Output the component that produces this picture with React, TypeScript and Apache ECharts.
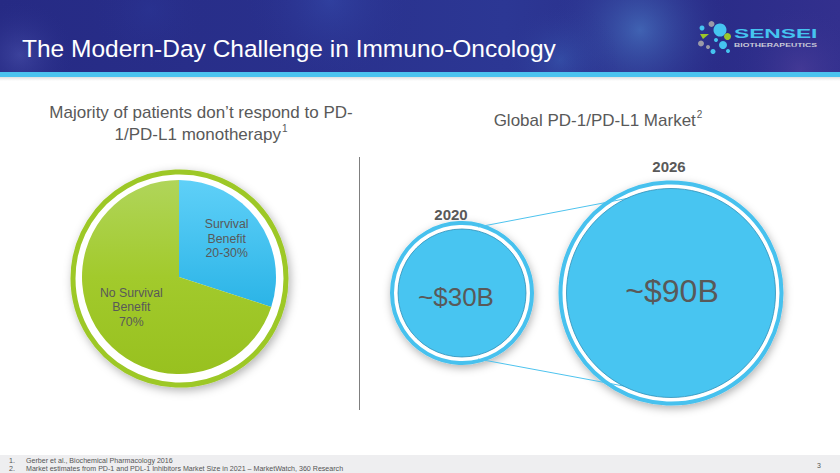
import React, { useEffect, useRef } from "react";
import * as echarts from "echarts";

// ---- data ----
const pieCategories = ["Survival Benefit", "No Survival Benefit"];
const pieValues = [30, 70];
const pieLabels = ["Survival\nBenefit\n20-30%", "No Survival\nBenefit\n70%"];

const marketYears = ["2020", "2026"];
const marketValues = [30, 90]; // $B
const marketLabels = ["~$30B", "~$90B"];

const titleText = "The Modern-Day Challenge in Immuno-Oncology";
const leftHeading = ["Majority of patients don\u2019t respond to PD-", "1/PD-L1 monotherapy"];
const rightHeading = "Global PD-1/PD-L1 Market";
const footnotes = [
  ["1.", "Gerber et al., Biochemical Pharmacology 2016"],
  ["2.", "Market estimates from PD-1 and PDL-1 Inhibitors Market Size in 2021 \u2013 MarketWatch, 360 Research"],
];
const pageNumber = "3";

const FONT = "'Liberation Sans', Arial, Helvetica, sans-serif";
const TEXT_GREY = "#595959";

// bubble size scale (value -> diameter)
const minV = Math.min(...marketValues);
const maxV = Math.max(...marketValues);
const fillDiameter = (v: number) => 128 + ((v - minV) / (maxV - minV)) * (209 - 128);

export default function App() {
  const ref = useRef<HTMLDivElement>(null);

  useEffect(() => {
    document.body.style.margin = "0";
    if (!ref.current) return;
    const chart = echarts.init(ref.current, null, { renderer: "svg" });

    const headerBg = [
      {
        type: "rect",
        z: 0,
        shape: { x: 0, y: 0, width: 840, height: 72 },
        style: {
          fill: new echarts.graphic.LinearGradient(0, 0, 1, 0, [
            { offset: 0, color: "#262a84" },
            { offset: 0.35, color: "#29308c" },
            { offset: 0.6, color: "#2c3794" },
            { offset: 0.85, color: "#2a2c88" },
            { offset: 1, color: "#33308e" },
          ]),
        },
      },
      ...[
        [640, 30, 95, "rgba(90,160,225,0.45)"],
        [560, 60, 60, "rgba(70,130,210,0.3)"],
        [330, 0, 90, "rgba(60,90,190,0.35)"],
        [20, 55, 55, "rgba(110,120,210,0.3)"],
        [800, 70, 70, "rgba(110,80,170,0.3)"],
        [150, 10, 60, "rgba(45,60,160,0.3)"],
      ].map(([cx, cy, r, c]) => ({
        type: "rect",
        z: 0,
        shape: { x: 0, y: 0, width: 840, height: 72 },
        style: {
          fill: new echarts.graphic.RadialGradient(
            cx as number,
            cy as number,
            r as number,
            [
              { offset: 0, color: c as string },
              { offset: 1, color: "rgba(40,45,140,0)" },
            ],
            true
          ),
        },
      })),
      {
        type: "rect",
        z: 0,
        shape: { x: 0, y: 72, width: 840, height: 5 },
        style: { fill: "#4bc3ef" },
      },
      {
        type: "rect",
        z: 0,
        shape: { x: 0, y: 77, width: 840, height: 4 },
        style: {
          fill: new echarts.graphic.LinearGradient(0, 0, 0, 1, [
            { offset: 0, color: "rgba(0,0,0,0.12)" },
            { offset: 1, color: "rgba(0,0,0,0)" },
          ]),
        },
      },
      {
        type: "text",
        z: 5,
        x: 22,
        y: 48,
        style: {
          text: titleText,
          fill: "#ffffff",
          font: `24.5px ${FONT}`,
          textVerticalAlign: "middle",
        },
      },
    ];

    // logo
    const logoDots: [number, number, number, string][] = [
      [711.5, 24, 3, "#9a9aa8"],
      [702, 28, 2.5, "#45c4f0"],
      [720, 30, 6.5, "#45c4f0"],
      [727.5, 36.5, 3.5, "#9bc72a"],
      [723, 45, 4, "#45c4f0"],
      [728, 51, 2, "#45c4f0"],
      [701, 43.5, 3, "#9a9aa8"],
      [713, 51.5, 2.5, "#45c4f0"],
      [708, 47, 2, "#9a9aa8"],
      [716, 40, 2, "#45c4f0"],
    ];
    const logo = [
      ...logoDots.map(([cx, cy, r, c]) => ({
        type: "circle",
        z: 5,
        shape: { cx, cy, r },
        style: { fill: c },
      })),
      {
        type: "polygon",
        z: 5,
        shape: { points: [[700, 34], [709, 34], [703, 39]] },
        style: { fill: "#9bc72a" },
      },
      {
        type: "text",
        z: 5,
        x: 734,
        y: 33,
        scaleX: 1.75,
        style: {
          text: "SENSEI",
          fill: "#45c4f0",
          font: `bold 13px ${FONT}`,
          textVerticalAlign: "middle",
        },
      },
      {
        type: "text",
        z: 5,
        x: 734,
        y: 45,
        scaleX: 1.58,
        style: {
          text: "BIOTHERAPEUTICS",
          fill: "#c9c9d8",
          font: `bold 5.5px ${FONT}`,
          textVerticalAlign: "middle",
        },
      },
    ];

    const headRich = {
      a: { fontSize: 17, fontFamily: FONT, fill: TEXT_GREY, lineHeight: 22.5 },
      s: { fontSize: 10, fontFamily: FONT, fill: TEXT_GREY, lineHeight: 22.5, verticalAlign: "top", padding: [0, 0, 10, 1] },
    };

    const body = [
      {
        type: "text",
        z: 5,
        x: 201,
        y: 101,
        style: {
          text: `{a|${leftHeading[0]}}\n{a|${leftHeading[1]}}{s|1}`,
          textAlign: "center",
          rich: headRich,
        },
      },
      {
        type: "text",
        z: 5,
        x: 598,
        y: 109,
        style: {
          text: `{a|${rightHeading}}{s|2}`,
          textAlign: "center",
          rich: headRich,
        },
      },
      {
        type: "line",
        z: 5,
        shape: { x1: 359.5, y1: 157, x2: 359.5, y2: 410 },
        style: { stroke: "#7f7f7f", lineWidth: 1 },
      },
      // pie outer ring
      {
        type: "circle",
        z: 1,
        shape: { cx: 179.5, cy: 278.5, r: 106.5 },
        style: {
          fill: "#ffffff",
          stroke: "#9dc826",
          lineWidth: 5,
          shadowBlur: 10,
          shadowColor: "rgba(0,0,0,0.3)",
          shadowOffsetX: 2,
          shadowOffsetY: 3,
        },
      },
      // connector lines between bubbles
      {
        type: "line",
        z: 3,
        shape: { x1: 478, y1: 227, x2: 645, y2: 195 },
        style: { stroke: "#4ec3ee", lineWidth: 1 },
      },
      {
        type: "line",
        z: 3,
        shape: { x1: 478, y1: 359, x2: 645, y2: 390 },
        style: { stroke: "#4ec3ee", lineWidth: 1 },
      },
      // footer
      {
        type: "rect",
        z: 0,
        shape: { x: 0, y: 455, width: 840, height: 18 },
        style: { fill: "#eeeef0" },
      },
      ...footnotes.flatMap(([n, t], i) => [
        {
          type: "text",
          z: 5,
          x: 9,
          y: 461 + i * 8,
          style: { text: n, fill: "#555555", font: `7.1px ${FONT}`, textVerticalAlign: "middle" },
        },
        {
          type: "text",
          z: 5,
          x: 26,
          y: 461 + i * 8,
          style: { text: t, fill: "#555555", font: `7.1px ${FONT}`, textVerticalAlign: "middle" },
        },
      ]),
      {
        type: "text",
        z: 5,
        x: 817,
        y: 465,
        style: { text: pageNumber, fill: "#555555", font: `7px ${FONT}`, textVerticalAlign: "middle" },
      },
    ];

    const option = {
      animation: false,
      backgroundColor: "#ffffff",
      grid: { left: 357.5, top: 173, width: 418, height: 240, show: false },
      xAxis: { type: "category", data: marketYears, show: false },
      yAxis: { type: "value", min: -1, max: 1, show: false },
      graphic: { elements: [...headerBg, ...logo, ...body] },
      series: [
        {
          type: "pie",
          z: 2,
          silent: true,
          center: [179, 277],
          radius: 97,
          startAngle: 90,
          clockwise: true,
          emphasis: { disabled: true },
          labelLine: { show: false },
          label: {
            show: true,
            position: "inside",
            formatter: (p: any) => pieLabels[p.dataIndex],
            color: TEXT_GREY,
            fontFamily: FONT,
            fontSize: 12.3,
            lineHeight: 14.5,
          },
          labelLayout: (p: any) => (p.dataIndex === 0 ? { dx: 6, dy: -8 } : { dx: -6, dy: 0 }),
          data: pieCategories.map((name, i) => ({
            name,
            value: pieValues[i],
            itemStyle: {
              color:
                i === 0
                  ? new echarts.graphic.LinearGradient(0, 0, 0, 1, [
                      { offset: 0, color: "#5fd0f8" },
                      { offset: 1, color: "#2bb4e7" },
                    ])
                  : new echarts.graphic.LinearGradient(0, 0, 0, 1, [
                      { offset: 0, color: "#b0d55a" },
                      { offset: 0.5, color: "#a2ca2c" },
                      { offset: 1, color: "#98c11f" },
                    ]),
            },
          })),
        },
        {
          // outer rings + year labels
          type: "scatter",
          z: 2,
          silent: true,
          symbol: "circle",
          symbolSize: (val: number[]) => fillDiameter(val[2]) + 12,
          itemStyle: {
            color: "#ffffff",
            borderColor: "#46c1ee",
            borderWidth: 4,
            opacity: 1,
            shadowBlur: 8,
            shadowColor: "rgba(0,0,0,0.3)",
            shadowOffsetX: 1,
            shadowOffsetY: 3,
          },
          label: {
            show: true,
            position: "top",
            formatter: (p: any) => marketYears[p.dataIndex],
            color: TEXT_GREY,
            fontFamily: FONT,
            fontWeight: "bold",
            fontSize: 15,
          },
          data: marketValues.map((v, i) => ({
            value: [i, 0, v],
            label: i === 0 ? { distance: -1, offset: [-11, 0] } : { distance: 7, offset: [-2, 0] },
          })),
        },
        {
          // filled bubbles with value labels
          type: "scatter",
          z: 4,
          silent: true,
          symbol: "circle",
          symbolSize: (val: number[]) => fillDiameter(val[2]),
          itemStyle: {
            color: "#48c5f1",
            borderColor: "#2f8fb8",
            borderWidth: 0.8,
            opacity: 1,
          },
          label: {
            show: true,
            position: "inside",
            formatter: (p: any) => marketLabels[p.dataIndex],
            color: TEXT_GREY,
            fontFamily: FONT,
          },
          data: marketValues.map((v, i) => ({
            value: [i, 0, v],
            label: i === 0 ? { fontSize: 26, offset: [-6, 4] } : { fontSize: 32, offset: [1, -2] },
          })),
        },
      ],
    };

    chart.setOption(option as any);
    return () => chart.dispose();
  }, []);

  return (
    <div
      ref={ref}
      style={{ position: "fixed", left: 0, top: 0, width: 840, height: 473, background: "#fff" }}
    />
  );
}
